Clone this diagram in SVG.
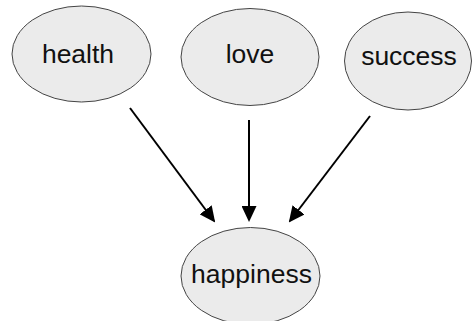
<svg xmlns="http://www.w3.org/2000/svg" width="475" height="321" viewBox="0 0 475 321">
<style>
.node ellipse{fill:#ebebeb;stroke:#444;stroke-width:1}
.node text{font-family:"Liberation Sans",Arial,sans-serif;font-size:26.5px;fill:#111;text-anchor:middle}
.edge{stroke:#000;stroke-width:2;fill:none;marker-end:url(#arr)}
</style>
<defs>
<marker id="arr" markerWidth="8" markerHeight="7.5" refX="7" refY="3.75" orient="auto" markerUnits="strokeWidth">
<path d="M0,0 L8,3.75 L0,7.5 Z" fill="#000"/>
</marker>
</defs>
<rect width="475" height="321" fill="#fff"/>
<g id="edges">
<line class="edge" x1="130" y1="108" x2="214" y2="221"/>
<line class="edge" x1="249" y1="120" x2="249" y2="220"/>
<line class="edge" x1="370" y1="116" x2="290" y2="221"/>
</g>
<g id="health" class="node"><ellipse cx="81.5" cy="54" rx="69.5" ry="48"/><text x="78" y="63">health</text></g>
<g id="love" class="node"><ellipse cx="250" cy="57" rx="69" ry="48.5"/><text x="250" y="63">love</text></g>
<g id="success" class="node"><ellipse cx="408" cy="61" rx="63.5" ry="49"/><text x="409" y="65">success</text></g>
<g id="happiness" class="node"><ellipse cx="250.5" cy="276" rx="69.5" ry="48.5"/><text x="251.5" y="283">happiness</text></g>
</svg>
